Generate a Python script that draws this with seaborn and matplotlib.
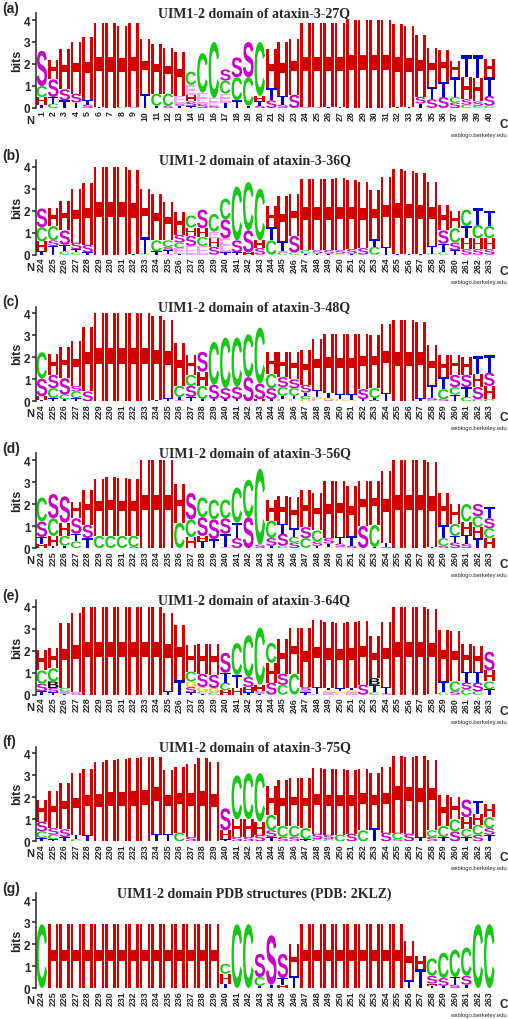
import numpy as np
import pandas as pd
import matplotlib
matplotlib.use("Agg")
import matplotlib.pyplot as plt
import seaborn as sns
from matplotlib.textpath import TextPath
from matplotlib.font_manager import FontProperties
from matplotlib.patches import PathPatch
from matplotlib.transforms import Affine2D

# ---------------- data ----------------
panel_labels = ["(a)", "(b)", "(c)", "(d)", "(e)", "(f)", "(g)"]
titles = ["UIM1-2 domain of ataxin-3-27Q",
          "UIM1-2 domain of ataxin-3-36Q",
          "UIM1-2 domain of ataxin-3-48Q",
          "UIM1-2 domain of ataxin-3-56Q",
          "UIM1-2 domain of ataxin-3-64Q",
          "UIM1-2 domain of ataxin-3-75Q",
          "UIM1-2 domain PDB structures (PDB: 2KLZ)"]
positions_a = list(range(1, 41))
positions_uim = list(range(224, 264))

# each entry: letters from bottom to top with their height in bits
stacks_a = ["T.15 H.35 C.5 S1.6", "C.2 T.3 S.8 H.9", "T.35 S.5 H1.85", "T.25 S.4 H2.35",
            "S.15 T.2 H2.9", "T.03 H3.82", "H3.85", "C.05 H3.68", "S.03 H3.82", "T.65 H2.48",
            "T.1 C.55 H2.25", "S.1 C.55 H2.1", "T.1 S.1 E.35 H2.0", "T.08 S.22 H.3 E.45 C.6",
            "S.2 E.5 C1.8", "S.1 E.35 C2.55", "T.25 E.4 C.6 S.5", "T.35 C1.05 S.9",
            "T.1 C1.3 S1.6", "S.1 T.2 H.25 C2.45", "S.35 T.55 H1.8", "S.15 T.4 H2.45",
            "S.6 H2.55", "S.03 H3.82", "S.03 H3.82", "T.05 H3.8", "T.03 H3.82", "H4.0",
            "H4.0", "H4.0", "H4.0", "T.05 H3.75", "T.05 H3.7", "T.2 S.3 H2.8",
            "S.4 T.55 H1.8", "S.5 T.7 H1.45", "S.25 C.25 T.9 H.75", "C.15 S.25 H1.0 T1.0",
            "C.1 S.2 H1.05 T1.05", "C.1 S.45 T.85 H.85"]

stacks_b = ["T.15 H.45 C.65 S.85", "T.4 S.25 C.65 H.8", "C.15 T.3 S.65 H1.35",
            "C.1 T.15 S.3 H2.45", "T.1 S.35 H2.8", "H4.0", "H4.0", "H4.0", "T.05 H3.82",
            "C.05 T.75 H2.2", "T.15 C.5 H2.1", "E.05 T.15 S.15 C.3 H1.75",
            "T.05 E.25 C.25 S.35 H1.05", "E.4 S.45 H.38 C.55", "E.4 C.4 H.4 S.85",
            "S.35 H.4 E.3 C.8", "T.1 E.65 S.85 C.95", "T.1 S.55 C2.45", "H.1 S1.0 C2.2",
            "S.3 H.35 C2.35", "C.65 T.6 H.95", "C.1 S.05 T.45 H2.05", "C.1 S.75 H1.9",
            "T.05 C.15 H3.25", "T.05 S.15 H3.25", "T.05 S.15 H3.25", "C.05 S.15 H3.3",
            "T.05 S.2 H3.15", "S.3 H3.0", "C.35 T.35 H2.25", "T.35 H3.2", "T.02 H3.88",
            "T.05 H3.75", "T.05 H3.65", "C.05 T.35 H2.9", "C.1 T.4 S.6 H1.15",
            "T.2 S.35 C.65 H.8", "S.25 H.5 T.55 C.75", "S.25 H.5 C.6 T.75",
            "S.25 H.5 C.55 T.7"]

stacks_c = ["T.08 H.15 S.8 C1.2", "T.15 C.45 S.6 H.95", "T.1 C.2 S.75 H1.4",
            "T.15 C.3 S.25 H2.05", "S.45 H2.95", "H4.0", "H4.0", "H4.0", "H4.0", "H4.0",
            "T.05 H3.83", "T.15 H3.55", "S.05 T.15 C.5 H1.95", "T.2 S.5 C.5 H.9",
            "T.1 C.6 H.65 S.9", "T.1 S.65 C1.95", "T.1 S.5 C2.3", "T.1 S.55 C2.25",
            "S1.1 C1.95", "H.1 S.7 C2.55", "T.1 S.5 C.65 H1.0", "E.1 T.15 C.4 S.45 H1.15",
            "E.1 T.15 C.35 S.4 H1.25", "G.1 C.15 T.15 S.35 H1.6", "E.1 G.1 T.3 H2.35",
            "S.05 G.1 T.25 H2.65", "G.1 T.25 H2.7", "G.05 T.3 H2.7", "T.1 S.45 H2.5",
            "B.05 T.1 C.45 H2.4", "T.4 H3.1", "T.03 H3.67", "H3.7", "T.15 H3.45",
            "C.05 S.1 T.6 H1.8", "S.1 C.45 T.55 H1.0", "T.3 C.35 S.55 H.9",
            "C.2 T.45 S.55 H.8", "C.1 S.55 H.6 T.8", "C.1 H.6 S.6 T.8"]

stacks_d = ["H.2 T.3 S.7 C1.1", "T.1 H.45 C.8 S1.1", "T.1 C.45 H.6 S1.2",
            "C.3 T.35 S.7 H.75", "T.45 S.6 H1.6", "C.55 H2.6", "C.55 H2.7", "C.55 H2.65",
            "S.05 C.5 H2.6", "H4.0", "H4.0", "H4.0", "C1.15 H1.75", "H.5 C.8 S1.2",
            "T.3 H.25 S.85 C.9", "T.4 S.9 C.9", "E.05 T.6 S.7 C.85", "S.45 T.7 C1.6",
            "S1.4 C1.7", "S.15 C3.45", "T.1 S.35 C.8 H.95", "C.1 S.55 T.45 H1.25",
            "S.25 C.25 T.4 H1.4", "C.45 S.5 H1.7", "T.1 S.2 C.5 H1.7",
            "G.05 T.15 S.25 H2.6", "G.05 S.15 T.3 H2.55", "S.1 T.45 H2.25", "S1.0 H2.05",
            "T.05 C1.0 H2.0", "S.05 T.2 H3.25", "H4.0", "H4.0", "H4.0", "T.05 H3.85",
            "S.1 C.35 T.6 H1.45", "S.25 T.3 C.55 H.9", "S.2 T.4 H.6 C.8",
            "T.45 H.5 C.5 S.55", "H.45 C.45 S.45 T.5"]

stacks_e = ["T.15 S.35 C.6 H.95", "T.1 S.2 B.3 C.6 H.9", "T.05 S.1 C.15 H2.95",
            "S.1 H3.6", "H4.0", "H4.0", "H4.0", "H4.0", "H4.0", "H4.0", "H4.0",
            "T.15 H3.55", "T.65 H2.5", "T.1 S.25 G.25 C.45 H1.2", "T.05 C.1 G.2 S.6 H1.35",
            "C.1 G.2 S.6 H1.4", "H.2 C.35 T.45 S.9", "H.3 T.6 C1.45",
            "T.1 H.25 S.45 C1.9", "T.05 S.1 H.3 C2.6", "S.55 H.9 C.9", "C.45 S.5 H1.6",
            "C.95 H2.1", "T.1 E.1 S.15 H2.7", "E.05 T.3 H3.05", "E.1 G.1 T.1 H3.0",
            "E.05 G.1 T.15 H2.95", "E.1 G.1 T.1 H3.0", "S.45 H2.9", "C.1 T.35 B.3 H1.9",
            "S.05 T.3 H2.95", "H4.0", "H4.0", "H4.0", "E.05 H3.85", "C.1 T.5 H2.35",
            "S.15 C.45 H2.3", "C.25 S.3 T.5 H1.25", "C.15 S.4 T.5 H1.15",
            "T.25 C.35 H.5 S.85"]

stacks_f = ["T.15 C.3 S.45 H1.0", "T.1 C.2 S.3 H1.7", "T.2 S.35 H2.1", "C.1 T.2 H2.8",
            "T.3 H3.0", "H3.6", "H3.7", "H3.75", "H3.8", "H3.85", "T.35 H3.5", "T.35 H2.9",
            "C.4 H3.0", "S.2 H3.3", "H3.8", "H3.6", "T.1 H.4 S1.0", "S.2 H.8 C2.0",
            "S.2 H.8 C2.1", "S.3 H.6 C2.2", "T.2 S.3 C.7 H1.3", "S.2 C.5 H2.1",
            "S.2 C.5 H2.2", "T.1 C.5 H2.3", "C.1 S.25 H3.0", "C.1 S.2 H3.0", "C.3 H3.0",
            "S.35 H2.9", "C.5 H2.8", "T.6 H2.5", "S.4 H3.0", "S.1 C.3 H3.5", "S.35 H3.5",
            "T.2 H3.7", "S.2 C.3 H3.2", "T.2 C.5 H1.4", "S.45 C.55 H1.0",
            "T.2 C.35 H.55 S.8", "S.3 C.45 H.5 T.6", "T.3 S.3 C.5 H.6"]

stacks_g = ["C2.9", "H2.9", "H2.9", "H2.9", "H2.9", "H2.9", "H2.9", "H2.9", "H2.9",
            "H2.9", "H2.9", "H2.9", "H2.9", "H2.9", "H2.9", "H2.9", "T.2 H.45 C.45",
            "C2.9", "C2.9", "T.1 C.4 S1.05", "T.15 S2.25", "H.15 T.3 S1.1", "T.55 H1.45",
            "H2.9", "H2.9", "H2.9", "H2.9", "H2.9", "H2.9", "H2.9", "H2.9", "H2.9",
            "T.35 H1.8", "T.85 H.6", "T.1 H.1 S.35 C.8", "T.1 S.35 C1.15",
            "S.15 T.35 C1.25", "T.15 S.4 C1.3", "C2.9", "C2.9"]

letter_colors = {"H": "#d40000", "C": "#14c814", "S": "#c800c8", "T": "#0000d0",
                 "E": "#ffa0ff", "G": "#ffb428", "B": "#000000"}

# ---------------- build long table ----------------
panels = [(positions_a, stacks_a), (positions_uim, stacks_b), (positions_uim, stacks_c),
          (positions_uim, stacks_d), (positions_uim, stacks_e), (positions_uim, stacks_f),
          (positions_uim, stacks_g)]
rows = []
for p, (pos, stk) in enumerate(panels):
    for i, s in enumerate(stk):
        bottom = 0.0
        for tok in s.split():
            h = float(tok[1:])
            rows.append(dict(panel=p, idx=i + 1, letter=tok[0], height=h, bottom=bottom))
            bottom += h
df = pd.DataFrame(rows)

# ---------------- style ----------------
sns.set_style("ticks")
plt.rcParams["font.family"] = ["Liberation Sans", "DejaVu Sans"]

W, HP = 508.0, 1020.0
PPB = 22.0          # pixels per bit
YTOP = 4.3
fig = plt.figure(figsize=(W / 100, HP / 100), dpi=100)

fp = FontProperties(family="Liberation Sans", weight="bold")
glyphs = {}
def glyph(letter):
    if letter not in glyphs:
        tp = TextPath((0, 0), letter, size=1, prop=fp)
        glyphs[letter] = (tp, tp.get_extents())
    return glyphs[letter]

def fx(px):
    return px / W
def fy(py):
    return 1 - py / HP

LW = 0.92
for p, (pos, stk) in enumerate(panels):
    z = 109 + 146.67 * p
    ax = fig.add_axes([fx(36), fy(z), 459 / W, YTOP * PPB / HP])
    ax.set_xlim(0.5, 40.5)
    ax.set_ylim(0, YTOP)
    sub = df[df.panel == p]
    for r in sub.itertuples():
        tp, bb = glyph(r.letter)
        t = (Affine2D().translate(-bb.x0, -bb.y0)
             .scale(LW / bb.width, r.height / bb.height)
             .translate(r.idx - LW / 2, r.bottom))
        ax.add_patch(PathPatch(t.transform_path(tp), fc=letter_colors[r.letter],
                               ec="none", lw=0))
    ax.set_xticks(range(1, 41))
    ax.set_xticklabels([str(v) for v in pos], rotation=90, fontsize=6.3,
                       fontweight="bold")
    ax.tick_params(axis="x", length=0, pad=1.5)
    ax.set_yticks([0, 1, 2, 3, 4])
    ax.set_yticklabels(["0", "1", "2", "3", "4"], fontsize=8.5, fontweight="bold")
    ax.tick_params(axis="y", length=3, width=1.1, pad=1, direction="out")
    ax.spines["left"].set_linewidth(1.1)
    sns.despine(ax=ax, top=True, right=True, bottom=True)
    ax.patch.set_alpha(0)

    fig.text(fx(17.5), fy(z - 48), "bits", rotation=90, ha="center", va="center",
             fontsize=9, fontweight="bold")
    fig.text(fx(30.5), fy(z + 12), "N", ha="center", va="center", fontsize=8,
             fontweight="bold")
    fig.text(fx(504), fy(z + 16), "C", ha="center", va="center", fontsize=8.5,
             fontweight="bold")
    fig.text(fx(507), fy(z + 26.5), "weblogo.berkeley.edu", ha="right", va="center",
             fontsize=4.2)
    fig.text(fx(254.5), fy(z - 95), titles[p], ha="center", va="center", fontsize=10,
             fontweight="bold", family=["Liberation Serif", "DejaVu Serif"])
    fig.text(fx(2), fy(z - 100), panel_labels[p], ha="left", va="center", fontsize=10,
             fontweight="bold")

fig.savefig("out.png", dpi=100)
